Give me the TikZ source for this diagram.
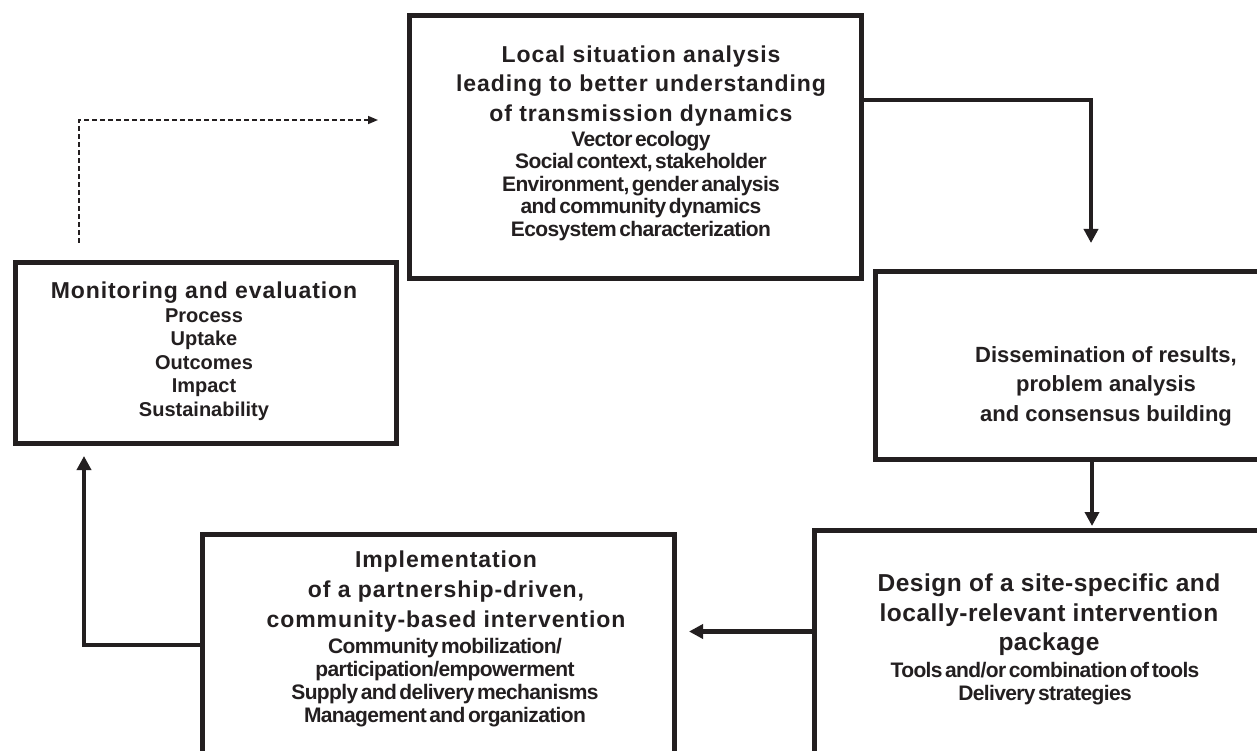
\documentclass[tikz,border=0pt]{standalone}
\usepackage{fontspec}
\setmainfont{Liberation Sans}
\newfontfamily\ttlA[LetterSpace=4]{Liberation Sans}
\newfontfamily\ttlB[LetterSpace=2]{Liberation Sans}
\newfontfamily\subA[WordSpace=0.5,LetterSpace=-3]{Liberation Sans}
\usetikzlibrary{arrows.meta}
\definecolor{ink}{HTML}{231F20}
\tikzset{
  box/.style={draw=ink, line width=5pt, anchor=north west, inner sep=0pt, outer sep=0pt},
  ttlone/.style={align=center, inner sep=0pt, anchor=north, text=ink, font=\ttlA\bfseries\fontsize{23}{29.5}\selectfont},
  ttltwo/.style={align=center, inner sep=0pt, anchor=north, text=ink, font=\ttlB\bfseries\fontsize{24.5}{29.5}\selectfont},
  subtext/.style={align=center, inner sep=0pt, anchor=north, text=ink, font=\subA\bfseries\fontsize{21}{22.5}\selectfont},
  arr/.style={draw=ink, line width=4.5pt, -{Triangle[width=14pt,length=14pt]}},
  dasharr/.style={draw=ink, line width=1.5pt, dash pattern=on 5pt off 3pt, -{Triangle[width=8pt,length=10pt]}}
}
\begin{document}
\begin{tikzpicture}[x=1pt,y=-1pt]
\useasboundingbox (0,0) rectangle (1257,751);
\clip (0,0) rectangle (1257,751);
\fill[white] (0,0) rectangle (1257,751);

% boxes
\node[box, minimum width=452pt, minimum height=262pt] (A) at (409,16) {};
\node[box, minimum width=420pt, minimum height=188pt] (B) at (875.5,271.5) {};
\node[box, minimum width=480pt, minimum height=280pt] (C) at (814,530) {};
\node[box, minimum width=472pt, minimum height=280pt] (D) at (202,534) {};
\node[box, minimum width=381pt, minimum height=181pt] (E) at (15,262) {};

% texts
\node[ttlone] (At) at (641,45.2) {Local situation analysis\\leading to better understanding\\of transmission dynamics};
\node[subtext] (As) at (641,130.7) {Vector ecology\\Social context, stakeholder\\Environment, gender analysis\\and community dynamics\\Ecosystem characterization};

\node[ttltwo, font=\bfseries\fontsize{22}{29.5}\selectfont] (Bt) at (1106,346) {Dissemination of results,\\problem analysis\\and consensus building};

\node[ttltwo] (Ct) at (1049,574) {Design of a site-specific and\\locally-relevant intervention\\package};
\node[subtext, font=\subA\bfseries\fontsize{21}{23}\selectfont] (Cs) at (1045,661.7) {Tools and/or combination of tools\\Delivery strategies};

\node[ttlone, font=\ttlA\bfseries\fontsize{23}{30}\selectfont] (Dt) at (446,550.2) {Implementation\\of a partnership-driven,\\community-based intervention};
\node[subtext, font=\subA\bfseries\fontsize{21}{23}\selectfont] (Ds) at (445,637.7) {Community mobilization/\\participation/empowerment\\Supply and delivery mechanisms\\Management and organization};

\node[ttlone] (Et) at (204,281.2) {Monitoring and evaluation};
\node[subtext, font=\bfseries\fontsize{20}{23.5}\selectfont] (Es) at (204,308.4) {Process\\Uptake\\Outcomes\\Impact\\Sustainability};

% connectors
\coordinate (abTurn) at (1091,100);
\coordinate (abTip) at (1091,243);
\draw[arr] (A.east |- abTurn) -| (abTip);

\coordinate (bcTip) at (1092,526);
\draw[arr] (B.south -| bcTip) -- (bcTip);

\coordinate (cdTip) at (689,631.5);
\draw[arr] (C.west |- cdTip) -- (cdTip);

\coordinate (deRow) at (84,645);
\coordinate (deTip) at (84,456);
\draw[arr] (D.west |- deRow) -- (deRow) -- (deTip);

\coordinate (dStart) at (79,243);
\coordinate (dTip) at (378,120);
\draw[dasharr] (dStart) |- (dTip);
\end{tikzpicture}
\end{document}
